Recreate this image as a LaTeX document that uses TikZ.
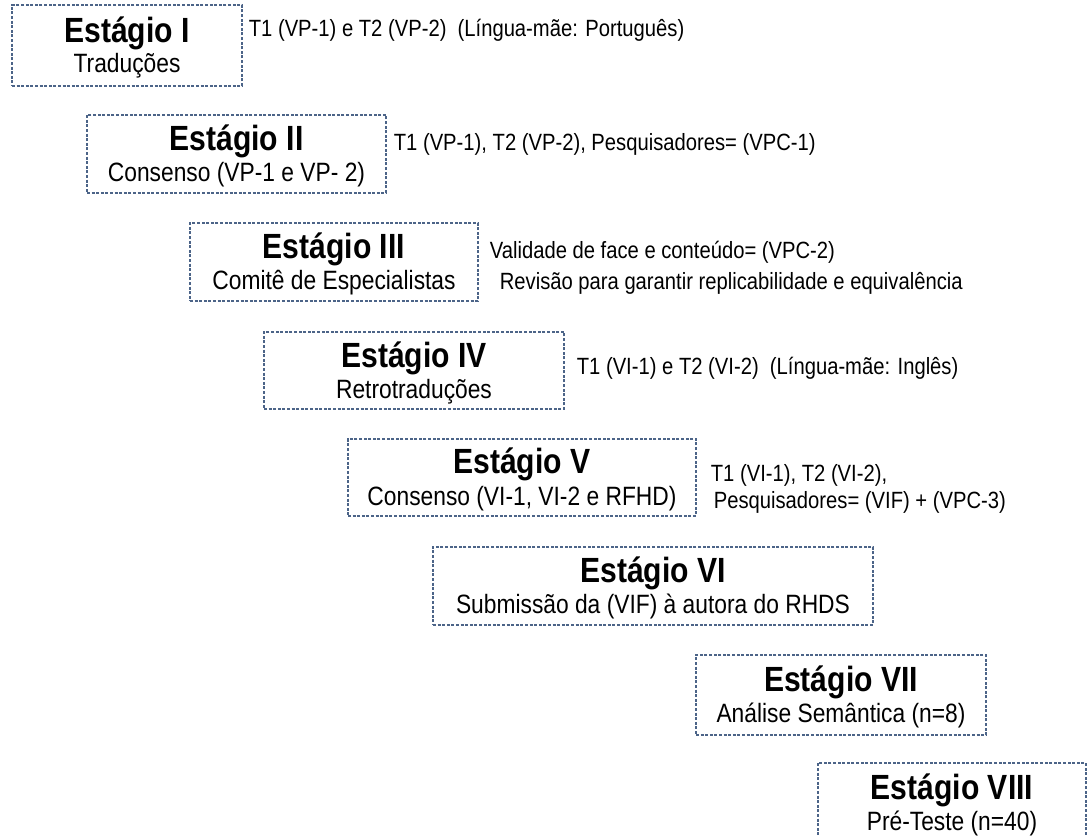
\documentclass[tikz,border=0pt]{standalone}
\usepackage{fontspec}
\setmainfont{Liberation Sans}
\newfontfamily\estreita[FakeStretch=0.86]{Liberation Sans}
\usepackage{tikz}
\usetikzlibrary{positioning}
\definecolor{bordaazul}{RGB}{76,100,136}

\begin{document}
\begin{tikzpicture}[x=1pt,y=1pt,
	caixa/.style={draw=bordaazul, dash pattern=on 3pt off 1.6pt, line width=1.3pt, inner sep=0pt, minimum height=78pt},
	titulo/.style={anchor=base, inner sep=0pt, font=\estreita\bfseries\fontsize{35}{38}\selectfont},
	subtitulo/.style={anchor=base, inner sep=0pt, font=\estreita\fontsize{26.5}{30}\selectfont},
	rotulo/.style={anchor=base west, inner sep=0pt, font=\estreita\fontsize{23.5}{28}\selectfont}]
	\useasboundingbox (0,0) rectangle (1090,-836);
	
	\node[caixa, minimum width=230pt, minimum height=81pt] (s1) at (127,-45.5) {};
	\node[titulo] (t1) at ([yshift=-38pt]s1.north) {Estágio I};
	\node[subtitulo] (d1) at ([yshift=-68pt]s1.north) {Traduções};
	\node[rotulo] (r1) at ([xshift=6pt,yshift=-32pt]s1.north east) {T1 (VP-1) e T2 (VP-2)\ \ (Língua-mãe: Português)};
	
	\node[caixa, minimum width=299pt] (s2) at (236.5,-154) {};
	\node[titulo] (t2) at ([yshift=-36pt]s2.north) {Estágio II};
	\node[subtitulo] (d2) at ([yshift=-67pt]s2.north) {Consenso (VP-1 e VP- 2)};
	\node[rotulo] (r2) at ([xshift=7pt,yshift=-36pt]s2.north east) {T1 (VP-1), T2 (VP-2), Pesquisadores= (VPC-1)};
	
	\node[caixa, minimum width=288pt] (s3) at (334,-262) {};
	\node[titulo] (t3) at ([yshift=-36pt]s3.north) {Estágio III};
	\node[subtitulo] (d3) at ([yshift=-67pt]s3.north) {Comitê de Especialistas};
	\node[rotulo] (r3a) at ([xshift=11pt,yshift=-36pt]s3.north east) {Validade de face e conteúdo= (VPC-2)};
	\node[rotulo] (r3b) at ([xshift=21pt,yshift=-67pt]s3.north east) {Revisão para garantir replicabilidade e equivalência};
	
	\node[caixa, minimum width=300pt, minimum height=77pt] (s4) at (414,-370.5) {};
	\node[titulo] (t4) at ([yshift=-36pt]s4.north) {Estágio IV};
	\node[subtitulo] (d4) at ([yshift=-67pt]s4.north) {Retrotraduções};
	\node[rotulo] (r4) at ([xshift=12pt,yshift=-43pt]s4.north east) {T1 (VI-1) e T2 (VI-2)\ \ (Língua-mãe: Inglês)};
	
	\node[caixa, minimum width=348pt, minimum height=77pt] (s5) at (522,-477.5) {};
	\node[titulo] (t5) at ([yshift=-35pt]s5.north) {Estágio V};
	\node[subtitulo] (d5) at ([yshift=-67pt]s5.north) {Consenso (VI-1, VI-2 e RFHD)};
	\node[rotulo] (r5a) at ([xshift=14pt,yshift=-43pt]s5.north east) {T1 (VI-1), T2 (VI-2),};
	\node[rotulo] (r5b) at ([xshift=17pt,yshift=-70pt]s5.north east) {Pesquisadores= (VIF) + (VPC-3)};
	
	\node[caixa, minimum width=440pt] (s6) at (653,-586) {};
	\node[titulo] (t6) at ([yshift=-36pt]s6.north) {Estágio VI};
	\node[subtitulo] (d6) at ([yshift=-67pt]s6.north) {Submissão da (VIF) à autora do RHDS};
	
	\node[caixa, minimum width=290pt, minimum height=80pt] (s7) at (841,-695) {};
	\node[titulo] (t7) at ([yshift=-37pt]s7.north) {Estágio VII};
	\node[subtitulo] (d7) at ([yshift=-68pt]s7.north) {Análise Semântica (n=8)};
	
	\node[caixa, minimum width=268pt, minimum height=80pt] (s8) at (952,-803) {};
	\node[titulo] (t8) at ([yshift=-37pt]s8.north) {Estágio VIII};
	\node[subtitulo] (d8) at ([yshift=-68pt]s8.north) {Pré-Teste (n=40)};
\end{tikzpicture}
\end{document}
